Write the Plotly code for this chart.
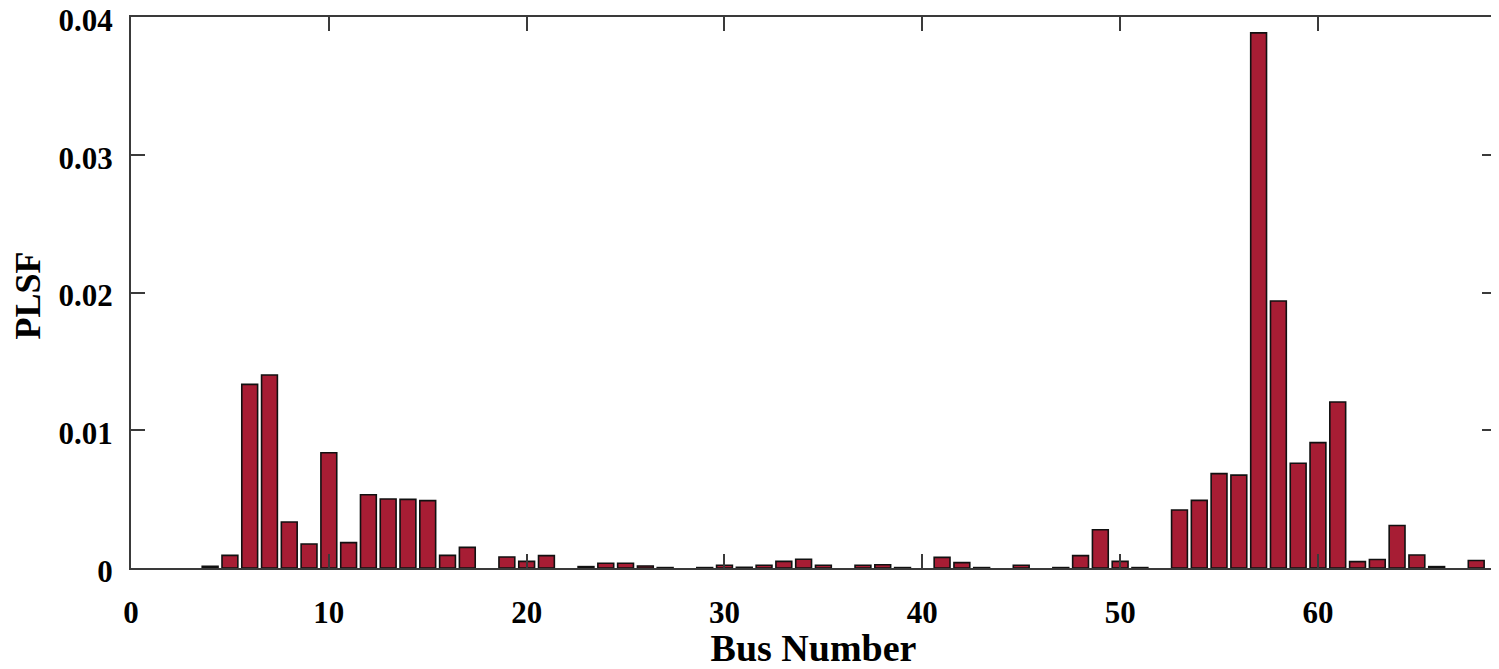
import plotly.graph_objects as go

bus = list(range(1, 69))
plsf = [
    None, None, None, 0.00012, 0.00092, 0.01333, 0.01401, 0.00334, 0.00174, 0.00837,   # 1-10
    0.00184, 0.00532, 0.00501, 0.00498, 0.00489, 0.00092, 0.0015, None, 0.0008, 0.00048,  # 11-20
    0.0009, None, 0.0001, 0.00034, 0.00034, 0.00015, 0.00003, None, 0.00003, 0.0002,  # 21-30
    0.00005, 0.0002, 0.00048, 0.00063, 0.0002, None, 0.0002, 0.00024, 0.00003, None,  # 31-40
    0.00077, 0.00039, 0.00003, None, 0.0002, None, 0.00003, 0.0009, 0.00278, 0.00048,  # 41-50
    0.00003, None, 0.00421, 0.00491, 0.00685, 0.00674, 0.03885, 0.01938, 0.0076, 0.0091,  # 51-60
    0.01205, 0.00046, 0.00062, 0.00309, 0.00094, 0.0001, None, 0.00054,  # 61-68
]

x_ticks = [0, 10, 20, 30, 40, 50, 60]
y_ticks = [0, 0.01, 0.02, 0.03, 0.04]
y_tick_text = ["0", "0.01", "0.02", "0.03", "0.04"]

fig = go.Figure()
fig.add_trace(go.Bar(
    x=bus, y=plsf, width=0.8,
    marker=dict(color="#A71D34", line=dict(color="#111111", width=1.6)),
))

font_family = "Liberation Serif"
axis_common = dict(
    showline=True, linecolor="#3a3a3a", linewidth=2, mirror="ticks",
    ticks="inside", ticklen=14, tickwidth=2, tickcolor="#3a3a3a",
    showgrid=False, zeroline=False, automargin=False,
    ticklabeloverflow="allow",
    tickfont=dict(family=font_family, size=31, color="black"),
)

# page body has a default 8px margin, so the figure is sized to fit the window
fig.update_layout(
    width=1491, height=661,
    margin=dict(l=123, r=3, t=9, b=101, autoexpand=False),
    paper_bgcolor="white", plot_bgcolor="white",
    showlegend=False,
    font=dict(family=font_family, color="black"),
    xaxis=dict(
        range=[0, 69], tickmode="array", tickvals=x_ticks,
        ticktext=[f"<b>{t}</b>" for t in x_ticks],
        ticklabelstandoff=16,
        title=dict(text="<b>Bus Number</b>", font=dict(family=font_family, size=38, color="black")),
        **axis_common,
    ),
    yaxis=dict(
        range=[0, 0.04], tickmode="array", tickvals=y_ticks,
        ticktext=[f"<b>{t}</b>" for t in y_tick_text],
        ticklabelstandoff=10, ticklabelshift=3,
        **axis_common,
    ),
    annotations=[dict(
        text="<b>PLSF</b>", xref="paper", yref="paper", x=0, y=0.5,
        xshift=-104, yshift=-3, xanchor="center", yanchor="middle", textangle=-90,
        showarrow=False, font=dict(family=font_family, size=36, color="black"),
    )],
)

fig.write_html("out.html")
